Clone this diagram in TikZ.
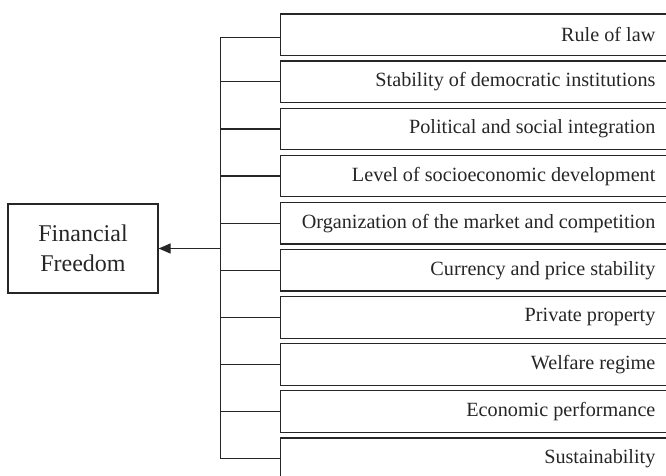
\documentclass[tikz,border=0pt]{standalone}
\usepackage{fontspec}
\setmainfont{Liberation Serif}
\usetikzlibrary{arrows.meta}
\begin{document}
\begin{tikzpicture}[x=1pt,y=-1pt,
  line width=1.2pt, draw=black!85,
  factor/.style={draw=none, anchor=east, inner sep=0pt, font=\fontsize{20.2}{23}\selectfont, text=black!85},
  mainbox/.style={draw=black!85, line width=1.2pt, minimum width=150pt, minimum height=89pt, inner sep=0pt, align=center, font=\fontsize{24}{30}\selectfont, text=black!85},
  link/.style={line width=1.2pt, draw=black!85}]
\clip (0,0) rectangle (666,476);
\node[mainbox] (ff) at (83,248.5) {Financial\\Freedom};
\foreach \i/\t in {0/Rule of law,1/Stability of democratic institutions,2/Political and social integration,3/Level of socioeconomic development,4/Organization of the market and competition,5/Currency and price stability,6/Private property,7/Welfare regime,8/Economic performance,9/Sustainability}{
  \pgfmathsetmacro{\top}{14+47.1*\i}
  \pgfmathsetmacro{\bot}{\top+41.5}
  \pgfmathsetmacro{\mid}{\top+20.75}
  \pgfmathsetmacro{\lmid}{\i==0 ? 37.5 : \mid}
  \draw[link] (690,\top) -- (280.5,\top) coordinate (bl\i) -- (280.5,\bot) -- (690,\bot);
  \coordinate (c\i) at (280.5,\lmid);
  \coordinate (v\i) at (220.5,\lmid);
  \node[factor] (t\i) at (656,\mid) {\t};
  \draw[link] (v\i) -- (c\i);
}
\draw[link] (v0) -- (v9);
\coordinate (jn) at (220.5,248.5);
\draw[link,-{Triangle[length=12pt,width=10pt]}] (jn) -- (ff.east);
\end{tikzpicture}
\end{document}
